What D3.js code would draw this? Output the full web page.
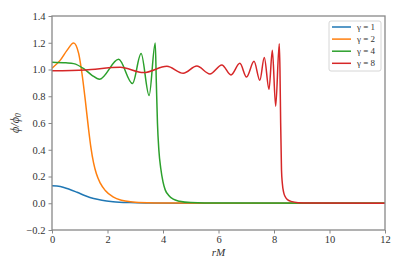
<!DOCTYPE html>
<html>
<head>
<meta charset="utf-8">
<script src="https://cdn.jsdelivr.net/npm/d3@7"></script>
<style>
  body { margin: 0; background: #fff; }
  text { font-family: "Liberation Serif", "DejaVu Serif", serif; }
</style>
</head>
<body>
<svg id="chart" width="403" height="269"></svg>
<script>
// values
var gammaLabels = ["γ = 1", "γ = 2", "γ = 4", "γ = 8"];
var colors = ["#1f77b4", "#ff7f0e", "#2ca02c", "#d62728"];

var r1   = [0, 0.3, 0.6, 0.9, 1.2, 1.5, 1.8, 2.2, 2.8, 3.5, 4.5, 6, 12];
var phi1 = [0.13, 0.125, 0.106, 0.082, 0.056, 0.035, 0.022, 0.012, 0.005, 0.002, 0.0005, 0, 0];

var r2   = [0, 0.3, 0.54, 0.78, 0.96, 1.08, 1.2, 1.32, 1.4, 1.5, 1.6, 1.74, 1.92, 2.2, 2.5, 2.9, 3.5, 4.5, 6, 12];
var phi2 = [1.01, 1.07, 1.143, 1.198, 1.12, 0.97, 0.77, 0.55, 0.42, 0.3, 0.22, 0.15, 0.095, 0.047, 0.022, 0.01, 0.004, 0.001, 0, 0];

var r4   = [0, 0.5, 0.78, 1.14, 1.44, 1.71, 2.4, 2.9, 3.21, 3.5, 3.72, 3.76, 3.8, 3.85, 3.92, 4.0, 4.08, 4.2, 4.37, 4.6, 5.0, 6, 12];
var phi4 = [1.055, 1.05, 1.044, 1.007, 0.957, 0.927, 1.076, 0.895, 1.119, 0.805, 1.198, 0.9, 0.6, 0.4, 0.26, 0.16, 0.1, 0.06, 0.03, 0.015, 0.005, 0.001, 0];

var r8   = [0, 1.2, 2.46, 3.3, 4.14, 4.73, 5.22, 5.69, 6.12, 6.45, 6.77, 7.01, 7.28, 7.49, 7.65, 7.82, 7.94, 8.06, 8.19,
            8.215, 8.24, 8.27, 8.3, 8.35, 8.4, 8.5, 8.65, 8.9, 9.2, 12];
var phi8 = [0.99, 0.997, 1.016, 0.977, 1.024, 0.972, 1.026, 0.967, 1.034, 0.959, 1.046, 0.944, 1.061, 0.919, 1.089, 0.852, 1.143, 0.725, 1.193,
            1.0, 0.6, 0.25, 0.15, 0.08, 0.05, 0.025, 0.012, 0.004, 0.001, 0];

var xTicks = [0, 2, 4, 6, 8, 10, 12];
var yTicks = [-0.2, 0, 0.2, 0.4, 0.6, 0.8, 1.0, 1.2, 1.4];

var series = [
  { r: r1, v: phi1 },
  { r: r2, v: phi2 },
  { r: r4, v: phi4 },
  { r: r8, v: phi8 }
];

var margin = { top: 16, right: 18, bottom: 39, left: 52 };
var width = 403 - margin.left - margin.right,
    height = 269 - margin.top - margin.bottom;

var svg = d3.select("#chart");
var g = svg.append("g")
    .attr("transform", "translate(" + margin.left + "," + margin.top + ")");

var x = d3.scaleLinear().domain([0, 12]).range([0, width]);
var y = d3.scaleLinear().domain([-0.2, 1.4]).range([height, 0]);

var line = d3.line()
    .x(function(d) { return x(d[0]); })
    .y(function(d) { return y(d[1]); })
    .curve(d3.curveMonotoneX);

g.append("defs").append("clipPath").attr("id", "clip")
  .append("rect").attr("width", width).attr("height", height);

g.append("g").attr("clip-path", "url(#clip)")
  .selectAll("path")
  .data(series)
  .enter().append("path")
    .attr("fill", "none")
    .attr("stroke", function(d, i) { return colors[i]; })
    .attr("stroke-width", 1.5)
    .attr("stroke-linejoin", "round")
    .attr("d", function(d) { return line(d.r.map(function(rv, k) { return [rv, d.v[k]]; })); });

var fmt = function(d) { return d3.format(".1f")(d).replace("-", "\u2212"); };

var xAxis = g.append("g")
    .attr("transform", "translate(0," + height + ")")
    .call(d3.axisBottom(x).tickValues(xTicks).tickSize(3.5).tickPadding(2));
var yAxis = g.append("g")
    .call(d3.axisLeft(y).tickValues(yTicks).tickFormat(fmt).tickSize(3.5).tickPadding(3));

[xAxis, yAxis].forEach(function(a) {
  a.attr("font-family", null);
  a.select(".domain").remove();
  a.selectAll("line").attr("stroke", "#888").attr("stroke-width", 1);
  a.selectAll("text").attr("fill", "#333").style("font-size", "10.5px")
    .style("font-family", "'Liberation Serif', serif");
});

// frame
g.append("rect")
    .attr("width", width).attr("height", height)
    .attr("fill", "none").attr("stroke", "#888").attr("stroke-width", 1.3);

g.append("text")
    .attr("x", width / 2).attr("y", height + 26)
    .attr("text-anchor", "middle")
    .attr("fill", "#333")
    .style("font-size", "11px").style("font-style", "italic")
    .text("rM");

g.append("text")
    .attr("transform", "translate(" + (-33) + "," + (height / 2) + ") rotate(-90)")
    .attr("text-anchor", "middle")
    .attr("fill", "#333")
    .style("font-size", "12px").style("font-style", "italic")
    .html("ϕ/ϕ<tspan dy='2' style='font-size:8px'>0</tspan>");

// legend
var legend = g.append("g").attr("transform", "translate(" + (width - 56) + ",5)");
legend.append("rect")
    .attr("width", 52).attr("height", 50)
    .attr("rx", 2)
    .attr("fill", "#fff").attr("fill-opacity", 0.8)
    .attr("stroke", "#ccc").attr("stroke-width", 0.8);

var item = legend.selectAll("g.item")
    .data(gammaLabels)
  .enter().append("g")
    .attr("class", "item")
    .attr("transform", function(d, i) { return "translate(3," + (6 + i * 12.1) + ")"; });

item.append("line")
    .attr("x1", 0).attr("x2", 19)
    .attr("stroke", function(d, i) { return colors[i]; })
    .attr("stroke-width", 1.5);

item.append("text")
    .attr("x", 25).attr("dy", "0.35em")
    .attr("fill", "#333")
    .style("font-size", "9px")
    .text(function(d) { return d; });
</script>
</body>
</html>
